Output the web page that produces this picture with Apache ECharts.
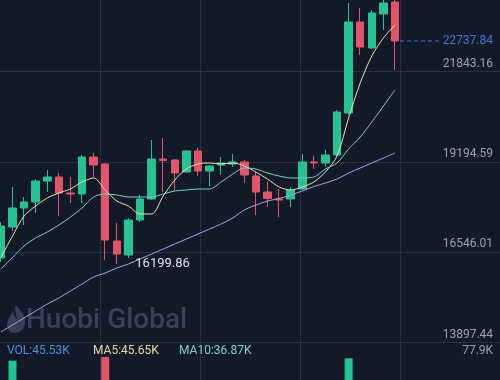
<!DOCTYPE html>
<html><head><meta charset="utf-8">
<script src="https://cdn.jsdelivr.net/npm/echarts@6/dist/echarts.min.js"></script>
<style>html,body{margin:0;padding:0;background:#121a2a;}#c{width:500px;height:380px;}</style>
</head><body><div id="c"></div>
<script>
const categories = ['1','2','3','4','5','6','7','8','9','10','11','12','13','14','15','16','17','18','19','20','21','22','23','24','25','26','27','28','29','30','31','32','33','34','35','36','37','38','39','40','41','42','43','44'];
const opens  = [16374.9,17283.9,17841.0,18016.9,18632.6,18749.9,18280.8,18251.5,19336.3,19131.0,16873.4,16462.9,17489.1,18104.9,19277.7,19248.3,18896.5,19512.2,18925.8,19101.7,19131.0,19190.7,18779.2,18310.1,18104.9,18104.9,18398.0,19190.7,19160.4,19394.9,20626.4,23294.5,22532.2,23529.0,23880.9];
const closes = [17313.2,17841.0,18016.9,18632.6,18749.9,18280.8,18251.5,19336.3,19101.7,16902.7,16492.3,17489.1,18104.9,19277.7,19233.7,18867.2,19512.2,18925.8,19072.4,19160.4,19190.7,18808.5,18310.1,18119.6,18075.5,18368.7,19190.7,19160.4,19394.9,20655.7,23294.5,22561.5,23558.4,23851.6,22737.84];
const lows   = [16257.7,17166.6,17342.5,17694.4,18310.1,17606.4,17987.6,17987.6,18749.9,16316.3,16199.86,16375.0,17430.5,18075.5,18310.1,18368.7,18867.2,18779.2,18486.0,18808.5,19043.1,18574.0,17635.7,17870.3,17577.1,17870.3,18368.7,18984.5,19043.1,19365.6,20567.7,22327.0,22502.9,23059.9,21887.1];
const highs  = [17430.5,18456.7,18163.5,18691.3,18955.1,18867.2,18749.9,19394.9,19453.6,19160.4,17401.2,17547.8,18222.1,19834.7,19893.4,19277.7,19541.5,19600.2,19101.7,19336.3,19424.3,19248.3,18896.5,18603.3,18398.0,18456.7,19424.3,19365.6,19541.5,20714.3,23851.6,23705.0,23646.3,23980.0,23960.0];
const ma5  = [16389.6,17020.0,17606.4,17899.6,18134.2,18280.8,18398.0,18603.3,18720.6,18368.7,18046.2,17899.6,17665.1,17665.1,18192.8,18661.9,18984.5,19131.0,19160.4,19131.0,19160.4,19072.4,18896.5,18691.3,18456.7,18368.7,18456.7,18603.3,18896.5,19365.6,20479.8,21506.0,22297.6,22825.4,23206.5];
const ma10 = [16052.5,16389.6,16726.8,16961.4,17137.3,17342.5,17577.1,17841.0,18163.5,18251.5,18222.1,18163.5,18163.5,18163.5,18251.5,18339.4,18368.7,18398.0,18398.0,18603.3,18837.9,19013.8,18984.5,18867.2,18779.2,18720.6,18720.6,18749.9,18984.5,19160.4,19570.9,19922.7,20362.5,20831.6,21300.7];
const ma30 = [14205.3,14410.5,14615.8,14821.0,15026.2,15202.1,15407.4,15612.6,15817.9,15935.1,16081.7,16199.0,16345.6,16492.2,16638.8,16785.4,16932.0,17078.6,17225.2,17371.8,17547.7,17782.3,17928.9,18046.2,18119.5,18222.1,18339.4,18471.3,18573.9,18691.2,18867.1,19013.7,19160.3,19306.9,19453.5];
const volumes = [30,74.3,25,32,20,28,18,40,26,77.9,48,42,30,45,35,24,28,30,16,14,15,22,30,20,26,20,33,18,24.45,45,76.6,38,35,33.15,45.53];
const volMA = [45.65, 36.87];
const priceTicks = [13897.44, 16546.01, 19194.59, 21843.16];
const volMax = 77.9;

const bg = '#121a2a', gridColor = '#263042', up = '#26c294', down = '#e2546a';
const labelColor = '#9aa2b0', font = 'Roboto';
const priceStep = (priceTicks[3] - priceTicks[0]) / 3;
const priceMin = priceTicks[0];
const priceMax = priceTicks[0] + (priceTicks[3] - priceTicks[0]) * (342.5 / 271);

const lowVal = Math.min.apply(null, lows);
const lowIdx = lows.indexOf(lowVal);

const chart = echarts.init(document.getElementById('c'), null, {renderer: 'canvas'});
const hiddenCat = {type: 'category', data: categories, boundaryGap: true, axisLine: {show: false}, axisTick: {show: false}, axisLabel: {show: false}, splitLine: {show: false}};
chart.setOption({
  backgroundColor: bg,
  animation: false,
  grid: [
    {left: 0, right: 0, top: 0, bottom: 0, outerBoundsMode: 'none', containLabel: false},
    {left: -4.9, right: -5.1, top: 0, bottom: 37.5, outerBoundsMode: 'none', containLabel: false},
    {left: -4.9, right: -5.1, top: 357, bottom: -57, outerBoundsMode: 'none', containLabel: false}
  ],
  xAxis: [
    {gridIndex: 0, type: 'value', min: 0, max: 500, interval: 100, axisLine: {show: false}, axisTick: {show: false}, axisLabel: {show: false},
     splitLine: {show: true, showMinLine: false, showMaxLine: false, lineStyle: {color: gridColor, width: 1}}},
    Object.assign({gridIndex: 1}, hiddenCat),
    Object.assign({gridIndex: 2}, hiddenCat)
  ],
  yAxis: [
    {gridIndex: 0, type: 'value', min: 0, max: 1, show: false},
    {gridIndex: 1, type: 'value', position: 'right', min: priceMin, max: priceMax, interval: priceStep,
     axisLine: {show: false}, axisTick: {show: false},
     axisLabel: {inside: true, margin: 12, color: labelColor, fontSize: 12, fontFamily: font, verticalAlign: 'bottom', padding: [0, 0, 2, 0], showMaxLabel: false,
       formatter: v => v.toFixed(2)},
     splitLine: {show: true, showMaxLine: false, lineStyle: {color: gridColor, width: 1}}},
    {gridIndex: 2, type: 'value', position: 'right', min: 0, max: volMax, interval: volMax,
     axisLine: {show: false}, axisTick: {show: false},
     axisLabel: {inside: true, margin: 12, color: labelColor, fontSize: 12, fontFamily: font, verticalAlign: 'bottom', showMinLabel: false,
       formatter: v => (v === volMax ? v + 'K' : '')},
     splitLine: {show: false}}
  ],
  series: [
    {type: 'candlestick', xAxisIndex: 1, yAxisIndex: 1, barWidth: 8, z: 3,
     data: opens.map((o, i) => [o, closes[i], lows[i], highs[i]]),
     itemStyle: {color: up, color0: down, borderColor: up, borderColor0: down, borderWidth: 1},
     markPoint: {symbol: 'circle', symbolSize: 1, itemStyle: {color: 'rgba(0,0,0,0)'},
       label: {show: true, position: 'right', distance: 18, color: '#dfe3ea', fontSize: 13, fontFamily: font, formatter: lowVal.toFixed(2)},
       data: [{coord: [lowIdx, lowVal]}]}
    },
    {type: 'line', name: 'MA5', xAxisIndex: 1, yAxisIndex: 1, data: ma5, symbol: 'none', smooth: 0.3, z: 4, lineStyle: {color: '#efe0ad', width: 1}},
    {type: 'line', name: 'MA10', xAxisIndex: 1, yAxisIndex: 1, data: ma10, symbol: 'none', smooth: 0.3, z: 4, lineStyle: {color: '#79cfc3', width: 1}},
    {type: 'line', name: 'MA30', xAxisIndex: 1, yAxisIndex: 1, data: ma30, symbol: 'none', smooth: 0.3, z: 4, lineStyle: {color: '#b49ce6', width: 1}},
    {type: 'bar', xAxisIndex: 2, yAxisIndex: 2, barWidth: 8,
     data: volumes.map((v, i) => ({value: v, itemStyle: {color: closes[i] >= opens[i] ? up : down}}))}
  ]
});

const last = closes.length - 1;
const p = chart.convertToPixel({gridIndex: 1}, [last, closes[last]]);
chart.setOption({
  graphic: [
    {type: 'polygon', z: 0, shape: {points: [[16,305],[19,309],[23,314],[25,319],[25,324],[23,329],[19,332],[15,333],[11,332],[8,329],[7,325],[8,320],[10,316],[13,311],[14,315],[16,318],[17,319],[16,314],[15,309]]},
     style: {fill: '#364257'}},
    {type: 'text', z: 0, x: 26, y: 321, style: {text: 'Huobi Global', font: '500 28px Roboto', fill: '#364257', verticalAlign: 'middle'}},
    {type: 'line', z: 5, shape: {x1: p[0] + 5, y1: p[1], x2: 442, y2: p[1]}, style: {stroke: '#3b78d8', lineWidth: 1, lineDash: [4, 3]}},
    {type: 'text', z: 5, x: 493, y: p[1], style: {text: closes[last].toFixed(2), font: '12px Roboto', fill: '#3b78d8', align: 'right', verticalAlign: 'middle'}},
    {type: 'text', z: 5, x: 7, y: 351, style: {text: 'VOL:' + volumes[last].toFixed(2) + 'K', font: '12px Roboto', fill: '#4d8fd6', verticalAlign: 'middle'}},
    {type: 'text', z: 5, x: 93, y: 351, style: {text: 'MA5:' + volMA[0].toFixed(2) + 'K', font: '12px Roboto', fill: '#e8d8a6', verticalAlign: 'middle'}},
    {type: 'text', z: 5, x: 179, y: 351, style: {text: 'MA10:' + volMA[1].toFixed(2) + 'K', font: '12px Roboto', fill: '#7fcfc4', verticalAlign: 'middle'}}
  ]
});
</script>
</body></html>
